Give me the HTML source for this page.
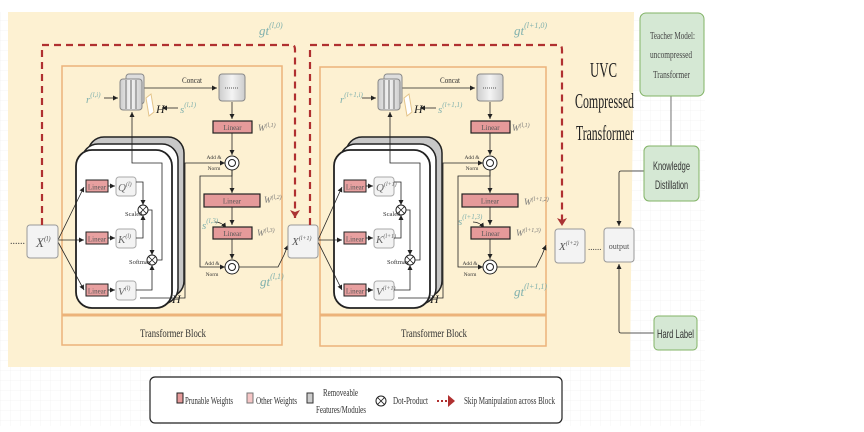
<!DOCTYPE html>
<html><head><meta charset="utf-8"><style>
html,body{margin:0;padding:0;background:#fff;}
svg{display:block;}
text{font-family:"Liberation Serif",serif;}
</style></head><body>
<svg width="864" height="432" viewBox="0 0 864 432" xmlns="http://www.w3.org/2000/svg">
<defs>
<pattern id="grid" width="10" height="10" patternUnits="userSpaceOnUse">
<path d="M10 0H0V10" fill="none" stroke="#ececec" stroke-width="0.6"/>
</pattern>
<marker id="ah" markerWidth="6" markerHeight="6" refX="5" refY="3" orient="auto" markerUnits="userSpaceOnUse"><path d="M0,0.5 L5,3 L0,5.5 z" fill="#222"/></marker>
<marker id="rh" markerWidth="10" markerHeight="10" refX="8" refY="5" orient="auto" markerUnits="userSpaceOnUse"><path d="M0,0 L8,5 L0,10 L2,5 z" fill="#a33"/></marker>
<linearGradient id="gs" x1="0" x2="1"><stop offset="0" stop-color="#ccc"/><stop offset="0.5" stop-color="#f4f4f4"/><stop offset="1" stop-color="#ccc"/></linearGradient>
<g id="blk">
 <rect x="88" y="137" width="96" height="160" rx="16" fill="#c8c8c8" stroke="#222" stroke-width="1.5"/>
 <rect x="82" y="144" width="96" height="160" rx="16" fill="#fff" stroke="#222" stroke-width="1.5"/>
 <rect x="76" y="150" width="96" height="158" rx="16" fill="#fff" stroke="#222" stroke-width="1.8"/>
 <rect x="86" y="180" width="22" height="12" fill="#e8a0a0" stroke="#222"/>
 <rect x="86" y="232" width="22" height="12" fill="#e8a0a0" stroke="#222"/>
 <rect x="86" y="284" width="22" height="12" fill="#e8a0a0" stroke="#222"/>
 <text x="97" y="189.5" font-size="7" text-anchor="middle" fill="#555">Linear</text>
 <text x="97" y="241.5" font-size="7" text-anchor="middle" fill="#555">Linear</text>
 <text x="97" y="293.5" font-size="7" text-anchor="middle" fill="#555">Linear</text>
 <rect x="116" y="177" width="20" height="19" rx="3" fill="#f3f3f3" stroke="#aaa"/>
 <rect x="116" y="229" width="20" height="19" rx="3" fill="#f3f3f3" stroke="#aaa"/>
 <rect x="116" y="281" width="20" height="19" rx="3" fill="#f3f3f3" stroke="#aaa"/>
 <g fill="none" stroke="#222" stroke-width="0.8">
  <path d="M108 186H115" marker-end="url(#ah)"/>
  <path d="M108 238H115" marker-end="url(#ah)"/>
  <path d="M108 290H115" marker-end="url(#ah)"/>
  <path d="M136 182H143V205" marker-end="url(#ah)"/>
  <path d="M136 238H143V215" marker-end="url(#ah)"/>
  <path d="M148 210H152V255" marker-end="url(#ah)"/>
  <path d="M136 290H152V265" marker-end="url(#ah)"/>
  <path d="M157 260H162V163H132V112" marker-end="url(#ah)"/>
  <path d="M140 298H185V163H225" marker-end="url(#ah)"/>
  <path d="M232 170V176H200V267H225" marker-end="url(#ah)"/>
  <path d="M232 102V119" marker-end="url(#ah)"/>
  <path d="M232 133V155" marker-end="url(#ah)"/>
  <path d="M232 170V193" marker-end="url(#ah)"/>
  <path d="M232 207V225" marker-end="url(#ah)"/>
  <path d="M232 239V259" marker-end="url(#ah)"/>
  <path d="M143 88H217" marker-end="url(#ah)"/>
  <path d="M104 98H118" marker-end="url(#ah)"/>
  <path d="M178 108H162" marker-end="url(#ah)"/>
  <path d="M215 222Q222 222 226 228" marker-end="url(#ah)"/>
  <path d="M239 267H278L284 255 288 245" marker-end="url(#ah)"/>
 </g>
 <circle cx="143" cy="210" r="5" fill="#fff" stroke="#222"/><path d="M139.5 206.5l7 7M146.5 206.5l-7 7" stroke="#222" stroke-width="0.8"/>
 <circle cx="152" cy="260" r="5" fill="#fff" stroke="#222"/><path d="M148.5 256.5l7 7M155.5 256.5l-7 7" stroke="#222" stroke-width="0.8"/>
 <text x="125" y="216" font-size="6.5" fill="#333">Scaled</text>
 <text x="129" y="264" font-size="6.5" fill="#333">Softmax</text>
 <text x="172" y="303" font-size="12" font-style="italic" fill="#222">H</text>
 <rect x="126" y="74" width="18" height="30" rx="3" fill="#ddd" stroke="#888"/>
 <rect x="120" y="79" width="22" height="31" rx="3" fill="url(#gs)" stroke="#888"/>
 <path d="M126 80V109M131 80V109M136 80V109" stroke="#aaa" stroke-width="2"/>
 <path d="M146 98L151 94 154 112 149 116z" fill="#fff" stroke="#e4c48a"/>
 <text x="156" y="113" font-size="12" font-style="italic" fill="#222">H</text>
 <text x="182" y="83" font-size="8" textLength="20" lengthAdjust="spacingAndGlyphs" fill="#333">Concat</text>
 <rect x="219" y="74" width="26" height="27" rx="3" fill="url(#gs)" stroke="#888"/>
 <path d="M225 88H239" stroke="#555" stroke-dasharray="1 1"/>
 <rect x="213" y="121" width="39" height="12" fill="#e59a9a" stroke="#222" stroke-width="1.2"/>
 <text x="232.5" y="130" font-size="7" text-anchor="middle" fill="#555">Linear</text>
 <rect x="204" y="194" width="56" height="13" fill="#e59a9a" stroke="#222" stroke-width="1.2"/>
 <text x="232" y="203.5" font-size="7" text-anchor="middle" fill="#555">Linear</text>
 <rect x="213" y="227" width="39" height="12" fill="#e59a9a" stroke="#222" stroke-width="1.2"/>
 <text x="232.5" y="236" font-size="7" text-anchor="middle" fill="#555">Linear</text>
 <circle cx="232" cy="163" r="7" fill="#fff" stroke="#222"/><circle cx="232" cy="163" r="3.5" fill="none" stroke="#222"/>
 <circle cx="232" cy="267" r="7" fill="#fff" stroke="#222"/><circle cx="232" cy="267" r="3.5" fill="none" stroke="#222"/>
 <text x="214" y="159" font-size="5.5" text-anchor="middle" fill="#333">Add &amp;</text>
 <text x="214" y="170" font-size="5.5" text-anchor="middle" fill="#333">Norm</text>
 <text x="212" y="265" font-size="5.5" text-anchor="middle" fill="#333">Add &amp;</text>
 <text x="212" y="276" font-size="5.5" text-anchor="middle" fill="#333">Norm</text>
</g>
</defs>
<rect x="0" y="12" width="705" height="414" fill="url(#grid)"/>
<path d="M8 12H634L630 367H8z" fill="#fdf1d2"/>

<rect x="62" y="66" width="220" height="279" fill="none" stroke="#ecb37a" stroke-width="1.5"/>
<path d="M62 315H282" stroke="#ecb37a" stroke-width="3"/>
<text x="140" y="337" font-size="12" textLength="66" lengthAdjust="spacingAndGlyphs" fill="#333">Transformer Block</text>
<rect x="320" y="67" width="226" height="279" fill="none" stroke="#ecb37a" stroke-width="1.5"/>
<path d="M320 315H546" stroke="#ecb37a" stroke-width="3"/>
<text x="401" y="337" font-size="12" textLength="66" lengthAdjust="spacingAndGlyphs" fill="#333">Transformer Block</text>

<use href="#blk"/>
<use href="#blk" transform="translate(258,0)"/>

<g font-style="italic">
<text x="86" y="103" font-size="11" fill="#7fb0ad">r<tspan font-size="7" dy="-6">(l,i)</tspan></text>
<text x="180" y="113" font-size="11" fill="#7fb0ad">s<tspan font-size="7" dy="-6">(l,1)</tspan></text>
<text x="118" y="191" font-size="11" fill="#666">Q<tspan font-size="6" dy="-5">(l)</tspan></text>
<text x="118" y="243" font-size="11" fill="#666">K<tspan font-size="6" dy="-5">(l)</tspan></text>
<text x="118" y="295" font-size="11" fill="#666">V<tspan font-size="6" dy="-5">(l)</tspan></text>
<text x="258" y="131" font-size="9" fill="#777">W<tspan font-size="6" dy="-4">(l,1)</tspan></text>
<text x="264" y="203" font-size="9" fill="#777">W<tspan font-size="6" dy="-4">(l,2)</tspan></text>
<text x="257" y="236" font-size="9" fill="#777">W<tspan font-size="6" dy="-4">(l,3)</tspan></text>
<text x="202" y="229" font-size="11" fill="#7fb0ad">s<tspan font-size="7" dy="-6">(l,3)</tspan></text>
<text x="259" y="35" font-size="13" fill="#7fb0ad">gt<tspan font-size="8" dy="-7">(l,0)</tspan></text>
<text x="260" y="286" font-size="13" fill="#7fb0ad">gt<tspan font-size="8" dy="-7">(l,1)</tspan></text>
<text x="340" y="103" font-size="11" fill="#7fb0ad">r<tspan font-size="7" dy="-6">(l+1,i)</tspan></text>
<text x="438" y="113" font-size="11" fill="#7fb0ad">s<tspan font-size="7" dy="-6">(l+1,1)</tspan></text>
<text x="376" y="191" font-size="11" fill="#666">Q<tspan font-size="6" dy="-5">(l+1)</tspan></text>
<text x="376" y="243" font-size="11" fill="#666">K<tspan font-size="6" dy="-5">(l+1)</tspan></text>
<text x="376" y="295" font-size="11" fill="#666">V<tspan font-size="6" dy="-5">(l+1)</tspan></text>
<text x="512" y="131" font-size="9" fill="#777">W<tspan font-size="6" dy="-4">(l,1)</tspan></text>
<text x="524" y="205" font-size="9" fill="#777">W<tspan font-size="6" dy="-4">(l+1,2)</tspan></text>
<text x="516" y="236" font-size="9" fill="#777">W<tspan font-size="6" dy="-4">(l+1,3)</tspan></text>
<text x="458" y="225" font-size="11" fill="#7fb0ad">s<tspan font-size="7" dy="-6">(l+1,3)</tspan></text>
<text x="514" y="35" font-size="13" fill="#7fb0ad">gt<tspan font-size="8" dy="-7">(l+1,0)</tspan></text>
<text x="514" y="296" font-size="13" fill="#7fb0ad">gt<tspan font-size="8" dy="-7">(l+1,1)</tspan></text>
</g>

<text x="10" y="244" font-size="10" fill="#444">......</text>
<g fill="none" stroke="#222" stroke-width="0.8">
<path d="M58 240L84 187" marker-end="url(#ah)"/>
<path d="M58 240H84" marker-end="url(#ah)"/>
<path d="M58 242L84 290" marker-end="url(#ah)"/>
<path d="M318 240L342 187" marker-end="url(#ah)"/>
<path d="M318 240H342" marker-end="url(#ah)"/>
<path d="M318 242L342 290" marker-end="url(#ah)"/>
</g>
<rect x="27" y="225" width="31" height="33" rx="3" fill="#f3f3f3" stroke="#999"/>
<text x="36" y="247" font-size="13" font-style="italic" fill="#555">X<tspan font-size="7" dy="-6">(l)</tspan></text>
<rect x="288" y="225" width="30" height="33" rx="3" fill="#f3f3f3" stroke="#999"/>
<text x="292" y="245" font-size="11" font-style="italic" fill="#555">X<tspan font-size="6" dy="-5">(l+1)</tspan></text>
<rect x="555" y="229" width="30" height="34" rx="3" fill="#f3f3f3" stroke="#999"/>
<text x="559" y="250" font-size="11" font-style="italic" fill="#555">X<tspan font-size="6" dy="-5">(l+2)</tspan></text>
<text x="588" y="250" font-size="9" fill="#444">......</text>
<rect x="604" y="228" width="30" height="34" rx="3" fill="#f3f3f3" stroke="#999"/>
<text x="619" y="249" font-size="8" text-anchor="middle" fill="#555">output</text>

<g fill="none" stroke="#b03030" stroke-width="2.2" stroke-dasharray="7 5">
<path d="M42 225V45H292Q295 45 295 50V218" marker-end="url(#rh)"/>
<path d="M310 225V45H559Q562 45 562 50V226" marker-end="url(#rh)"/>
</g>

<text x="590" y="77" font-size="21" textLength="27" lengthAdjust="spacingAndGlyphs" fill="#222">UVC</text>
<text x="575" y="108" font-size="21" textLength="59" lengthAdjust="spacingAndGlyphs" fill="#222">Compressed</text>
<text x="576" y="140" font-size="21" textLength="58" lengthAdjust="spacingAndGlyphs" fill="#222">Transformer</text>

<path d="M671 96V146" stroke="#777" stroke-width="1"/>
<g fill="none" stroke="#222" stroke-width="0.8">
<path d="M644 171H621Q619 171 619 173V226" marker-end="url(#ah)"/>
<path d="M654 333H621Q619 333 619 331V264" marker-end="url(#ah)"/>
</g>
<rect x="640" y="13" width="64" height="83" rx="6" fill="#d5e8d4" stroke="#82b366"/>
<text x="650" y="39" font-size="11" textLength="45" lengthAdjust="spacingAndGlyphs" fill="#444">Teacher Model:</text>
<text x="650" y="58" font-size="11" textLength="42" lengthAdjust="spacingAndGlyphs" fill="#444">uncompressed</text>
<text x="653" y="78" font-size="11" textLength="37" lengthAdjust="spacingAndGlyphs" fill="#444">Transformer</text>
<rect x="644" y="146" width="55" height="55" rx="5" fill="#d5e8d4" stroke="#82b366"/>
<text x="653" y="170" font-size="12" textLength="37" lengthAdjust="spacingAndGlyphs" fill="#333" style="font-family:'Liberation Sans',sans-serif">Knowledge</text>
<text x="655" y="189" font-size="12" textLength="33" lengthAdjust="spacingAndGlyphs" fill="#333" style="font-family:'Liberation Sans',sans-serif">Distillation</text>
<rect x="654" y="316" width="43" height="34" rx="4" fill="#d5e8d4" stroke="#82b366"/>
<text x="657" y="338" font-size="12" textLength="37" lengthAdjust="spacingAndGlyphs" fill="#333" style="font-family:'Liberation Sans',sans-serif">Hard Label</text>

<rect x="150" y="377" width="412" height="46" rx="5" fill="#fff" stroke="#222" stroke-width="1.2"/>
<rect x="177" y="393" width="6" height="10" fill="#e59a9a" stroke="#222"/>
<text x="185" y="404" font-size="10" textLength="48" lengthAdjust="spacingAndGlyphs" fill="#333">Prunable Weights</text>
<rect x="247" y="393" width="6" height="10" fill="#f5c6c6" stroke="#777"/>
<text x="256" y="404" font-size="10" textLength="41" lengthAdjust="spacingAndGlyphs" fill="#333">Other Weights</text>
<rect x="307" y="393" width="6" height="10" fill="#ccc" stroke="#333"/>
<text x="323" y="396" font-size="10" textLength="35" lengthAdjust="spacingAndGlyphs" fill="#333">Removeable</text>
<text x="316" y="413" font-size="10" textLength="50" lengthAdjust="spacingAndGlyphs" fill="#333">Features/Modules</text>
<circle cx="381" cy="401" r="5" fill="#fff" stroke="#222"/><path d="M377.5 397.5l7 7M384.5 397.5l-7 7" stroke="#222" stroke-width="0.8"/>
<text x="393" y="404" font-size="10" textLength="35" lengthAdjust="spacingAndGlyphs" fill="#333">Dot-Product</text>
<path d="M437 401H447" stroke="#b03030" stroke-width="2" stroke-dasharray="2 2"/>
<path d="M448 395L455 401 448 407z" fill="#b03030"/>
<text x="464" y="404" font-size="10" textLength="91" lengthAdjust="spacingAndGlyphs" fill="#333">Skip Manipulation across Block</text>
</svg>
</body></html>
